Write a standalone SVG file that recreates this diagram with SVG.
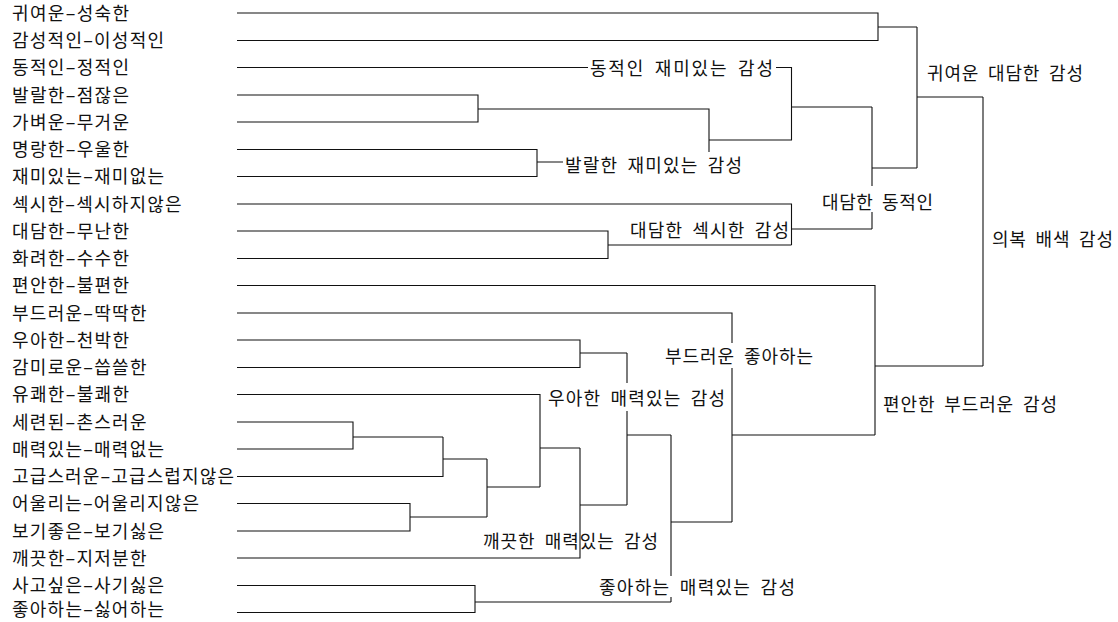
<svg xmlns="http://www.w3.org/2000/svg" width="1118" height="622" viewBox="0 0 1118 622">
<style>
  text { font-family: "Noto Sans CJK KR", "Noto Sans", sans-serif; font-size: 18px; fill: #111; }
  .cl { word-spacing: 4px; }
  .ln { fill: none; stroke: #111; stroke-width: 1.1; }
</style>
<rect width="1118" height="622" fill="#fff"/>
<g id="connectors" class="ln">
  <path d="M237,13 H878 V40.5 H237 M878,27 H917"/>
  <path d="M237,95 H478 V122 H237 M478,109 H709 V152"/>
  <path d="M237,149.5 H537 V176.5 H237 M537,162 H563"/>
  <path d="M237,67.5 H588 M776,67.5 H791.5 V140 H709 M791.5,107 H872"/>
  <path d="M237,231 H608 V258.5 H237 M608,245 H791.5"/>
  <path d="M237,204 H791.5 V245 M791.5,229 H872"/>
  <path d="M872,107 V186 M872,212 V229 M872,168 H917"/>
  <path d="M917,27 V168 M917,97 H983"/>
  <path d="M237,340 H580 V367.5 H237 M580,353 H627"/>
  <path d="M237,422 H353 V449 H237 M353,437 H443"/>
  <path d="M237,476.5 H443 V437 M443,459 H487"/>
  <path d="M237,503.5 H410 V531 H237 M410,517 H487"/>
  <path d="M487,459 V517 M487,487 H540"/>
  <path d="M237,394.5 H540 V487 M540,448 H580"/>
  <path d="M237,558 H580 V448 M580,505 H627"/>
  <path d="M627,353 V383 M627,411 V505 M627,435 H671"/>
  <path d="M237,585.5 H475 V612.5 H237 M475,602 H671"/>
  <path d="M671,435 V576 M671,597 V602 M671,522 H732"/>
  <path d="M237,313 H732 V343 M732,368 V522 M732,435 H875"/>
  <path d="M237,285.5 H875 V435 M875,366 H983"/>
  <path d="M983,97 V366"/>
</g>
<g id="leaves">
  <g id="leaf0"><text x="12" y="19.5" textLength="117" lengthAdjust="spacing">귀여운–성숙한</text></g>
  <g id="leaf1"><text x="12" y="47" textLength="152" lengthAdjust="spacing">감성적인–이성적인</text></g>
  <g id="leaf2"><text x="12" y="74" textLength="117" lengthAdjust="spacing">동적인–정적인</text></g>
  <g id="leaf3"><text x="12" y="101.5" textLength="117" lengthAdjust="spacing">발랄한–점잖은</text></g>
  <g id="leaf4"><text x="12" y="128.5" textLength="117" lengthAdjust="spacing">가벼운–무거운</text></g>
  <g id="leaf5"><text x="12" y="156" textLength="117" lengthAdjust="spacing">명랑한–우울한</text></g>
  <g id="leaf6"><text x="12" y="183" textLength="152" lengthAdjust="spacing">재미있는–재미없는</text></g>
  <g id="leaf7"><text x="12" y="210.5" textLength="169.5" lengthAdjust="spacing">섹시한–섹시하지않은</text></g>
  <g id="leaf8"><text x="12" y="237.5" textLength="117" lengthAdjust="spacing">대담한–무난한</text></g>
  <g id="leaf9"><text x="12" y="265" textLength="117" lengthAdjust="spacing">화려한–수수한</text></g>
  <g id="leaf10"><text x="12" y="292" textLength="117" lengthAdjust="spacing">편안한–불편한</text></g>
  <g id="leaf11"><text x="12" y="319.5" textLength="134.5" lengthAdjust="spacing">부드러운–딱딱한</text></g>
  <g id="leaf12"><text x="12" y="346.5" textLength="117" lengthAdjust="spacing">우아한–천박한</text></g>
  <g id="leaf13"><text x="12" y="374" textLength="134.5" lengthAdjust="spacing">감미로운–씁쓸한</text></g>
  <g id="leaf14"><text x="12" y="401" textLength="117" lengthAdjust="spacing">유쾌한–불쾌한</text></g>
  <g id="leaf15"><text x="12" y="428.5" textLength="134.5" lengthAdjust="spacing">세련된–촌스러운</text></g>
  <g id="leaf16"><text x="12" y="455.5" textLength="152" lengthAdjust="spacing">매력있는–매력없는</text></g>
  <g id="leaf17"><text x="12" y="483" textLength="222" lengthAdjust="spacing">고급스러운–고급스럽지않은</text></g>
  <g id="leaf18"><text x="12" y="510" textLength="187" lengthAdjust="spacing">어울리는–어울리지않은</text></g>
  <g id="leaf19"><text x="12" y="537.5" textLength="152" lengthAdjust="spacing">보기좋은–보기싫은</text></g>
  <g id="leaf20"><text x="12" y="564.5" textLength="134.5" lengthAdjust="spacing">깨끗한–지저분한</text></g>
  <g id="leaf21"><text x="12" y="591.5" textLength="152" lengthAdjust="spacing">사고싶은–사기싫은</text></g>
  <g id="leaf22"><text x="12" y="615.5" textLength="152" lengthAdjust="spacing">좋아하는–싫어하는</text></g>
</g>
<g id="clusters">
  <g id="n-dynamic-fun"><text class="cl" x="590" y="75" textLength="183" lengthAdjust="spacing">동적인 재미있는 감성</text></g>
  <g id="n-lively-fun"><text class="cl" x="565" y="172" textLength="177" lengthAdjust="spacing">발랄한 재미있는 감성</text></g>
  <g id="n-bold-sexy"><text class="cl" x="630" y="236.5" textLength="159" lengthAdjust="spacing">대담한 섹시한 감성</text></g>
  <g id="n-cute-bold"><text class="cl" x="927" y="79.5" textLength="156" lengthAdjust="spacing">귀여운 대담한 감성</text></g>
  <g id="n-bold-dynamic"><text class="cl" x="822" y="209" textLength="111" lengthAdjust="spacing">대담한 동적인</text></g>
  <g id="n-root"><text class="cl" x="992" y="245.5" textLength="121" lengthAdjust="spacing">의복 배색 감성</text></g>
  <g id="n-comfort-soft"><text class="cl" x="883" y="410.5" textLength="174" lengthAdjust="spacing">편안한 부드러운 감성</text></g>
  <g id="n-soft-like"><text class="cl" x="665" y="363" textLength="148" lengthAdjust="spacing">부드러운 좋아하는</text></g>
  <g id="n-elegant-charm"><text class="cl" x="548" y="405" textLength="177" lengthAdjust="spacing">우아한 매력있는 감성</text></g>
  <g id="n-clean-charm"><text class="cl" x="483" y="547.5" textLength="175" lengthAdjust="spacing">깨끗한 매력있는 감성</text></g>
  <g id="n-like-charm"><text class="cl" x="599" y="594" textLength="196" lengthAdjust="spacing">좋아하는 매력있는 감성</text></g>
</g>
</svg>
